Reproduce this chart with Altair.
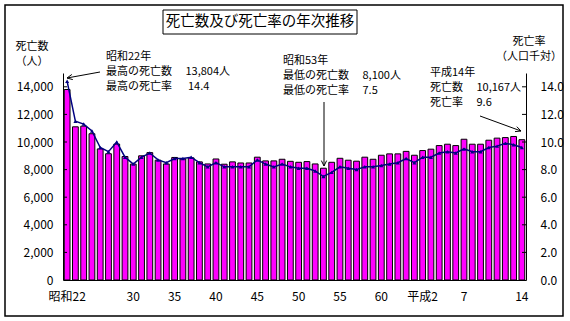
import math
import altair as alt
import pandas as pd

# ---- data ----
years = list(range(1947, 2003))  # 昭和22 .. 平成14
deaths = [13804, 11100, 11150, 10600, 9500, 9150, 9850, 8950, 8400, 9000,
          9230, 8680, 8410, 8880, 8770, 8850, 8560, 8410, 8770, 8390,
          8560, 8480, 8480, 8900, 8630, 8630, 8750, 8600, 8530, 8580,
          8410, 8100, 8530, 8820, 8680, 8610, 8900, 8750, 9040, 9140,
          9140, 9320, 9040, 9380, 9480, 9740, 9840, 9740, 10200, 9840,
          9840, 10130, 10280, 10320, 10400, 10167]
rates = [14.4, 11.5, 11.3, 10.8, 9.6, 9.3, 10.0, 8.9, 8.4, 8.9,
         9.2, 8.7, 8.5, 8.8, 8.8, 8.9, 8.5, 8.2, 8.5, 8.2,
         8.2, 8.2, 8.2, 8.7, 8.4, 8.2, 8.4, 8.2, 8.1, 8.1,
         7.9, 7.5, 7.8, 8.2, 8.1, 8.0, 8.2, 8.2, 8.3, 8.4,
         8.5, 8.8, 8.5, 8.9, 8.9, 9.2, 9.3, 9.2, 9.5, 9.3,
         9.3, 9.6, 9.7, 9.9, 9.8, 9.6]
tick_years = ["1947", "1955", "1960", "1965", "1970", "1975", "1980", "1985", "1990", "1995", "2002"]
tick_labels = ["昭和22", "30", "35", "40", "45", "50", "55", "60", "平成2", "7", "14"]
count_ticks = [0, 2000, 4000, 6000, 8000, 10000, 12000, 14000]
rate_ticks = [0, 2, 4, 6, 8, 10, 12, 14]

FONT = "Noto Sans CJK JP"
L, T = 63, 73          # plot-area origin in the page
W, H = 463, 207        # plot-area size

df = pd.DataFrame({"year": [str(y) for y in years], "deaths": deaths, "rate": rates})
one = pd.DataFrame({"k": [0]})

label_expr = " : ".join(f"datum.value == '{y}' ? '{l}'" for y, l in zip(tick_years, tick_labels)) + " : ''"

x_enc = alt.X("year:O", sort=None,
              scale=alt.Scale(paddingInner=0.3, paddingOuter=0.15),
              axis=alt.Axis(values=tick_years, labelExpr=label_expr, labelAngle=0,
                            ticks=False, tickSize=0, domainColor="black", domainWidth=1,
                            labelFont=FONT, labelFontSize=12, labelColor="black",
                            labelPadding=11, labelOverlap=False, title=None, grid=False))

left_axis = alt.Axis(values=count_ticks, format=",.0f", ticks=False, tickSize=0,
                     domainColor="black", labelFont=FONT, labelFontSize=12,
                     labelColor="black", labelPadding=10, title=None, grid=False)
right_axis = alt.Axis(orient="right", values=rate_ticks, format=".1f", ticks=False, tickSize=0,
                      domainColor="black", labelFont=FONT, labelFontSize=12,
                      labelColor="black", labelPadding=14, title=None, grid=False)
y_left = alt.Y("deaths:Q", scale=alt.Scale(domain=[0, 15000], nice=False), axis=left_axis)
y_right = alt.Y("rate:Q", scale=alt.Scale(domain=[0, 15], nice=False), axis=right_axis)


def txt(s, ax, ay, size=11, align="left"):
    return alt.Chart(one).mark_text(text=s, font=FONT, fontSize=size, align=align,
                                    baseline="middle", color="black").encode(
        x=alt.value(ax - L), y=alt.value(ay - T))


def seg(x1, y1, x2, y2, w=1.0):
    return alt.Chart(one).mark_rule(color="black", strokeWidth=w).encode(
        x=alt.value(x1 - L), y=alt.value(y1 - T), x2=alt.value(x2 - L), y2=alt.value(y2 - T))


def arrow(x1, y1, x2, y2):
    ang = math.atan2(y1 - y2, x1 - x2)
    parts = [seg(x1, y1, x2, y2)]
    for d in (0.45, -0.45):
        parts.append(seg(x2, y2, x2 + 6 * math.cos(ang + d), y2 + 6 * math.sin(ang + d)))
    return parts


def box(x1, y1, x2, y2, w=1.0):
    return alt.Chart(one).mark_rect(fillOpacity=0, stroke="black", strokeWidth=w).encode(
        x=alt.value(x1 - L), y=alt.value(y1 - T), x2=alt.value(x2 - L), y2=alt.value(y2 - T))


bars = alt.Chart(df).mark_bar(color="#FF00FF", stroke="black", strokeWidth=1).encode(
    x=x_enc, y=y_left)

lticks = alt.Chart(pd.DataFrame({"deaths": count_ticks[1:]})).mark_rule(color="black").encode(
    y=y_left, x=alt.value(0), x2=alt.value(4))

annotations = [
    box(5, 5, 563, 316, 1.5),
    box(163, 10, 357, 34, 1.0),
    txt("死亡数及び死亡率の年次推移", 260, 22, size=14.5, align="center"),
    txt("死亡数", 32, 47, align="center"),
    txt("（人）", 32, 62, align="center"),
    txt("死亡率", 529, 42, align="center"),
    txt("（人口千対）", 529, 57, align="center"),
    txt("昭和22年", 106, 57),
    txt("最高の死亡数\u3000 13,804人", 106, 72),
    txt("最高の死亡率\u3000 \u00a014.4", 106, 87),
    txt("昭和53年", 283, 61),
    txt("最低の死亡数\u3000 8,100人", 283, 76),
    txt("最低の死亡率\u3000 7.5", 283, 91),
    txt("平成14年", 430, 73),
    txt("死亡数\u3000 10,167人", 430, 88),
    txt("死亡率\u3000 9.6", 430, 103),
]
annotations += arrow(100, 72, 67, 78)
annotations += arrow(324, 102, 324, 166)
annotations += arrow(480, 116, 521, 131)

left = alt.layer(bars, lticks, *annotations)

line = alt.Chart(df).mark_line(color="#000080", strokeWidth=1.5).encode(x=x_enc, y=y_right)
pts = alt.Chart(df).mark_point(shape="triangle-up", filled=True, color="#000080", size=16, opacity=1).encode(
    x=x_enc, y=y_right)
rticks = alt.Chart(pd.DataFrame({"rate": rate_ticks[1:]})).mark_rule(color="black").encode(
    y=y_right, x=alt.value(W - 4), x2=alt.value(W))

right = alt.layer(line, pts, rticks)

chart = alt.layer(left, right).resolve_scale(y="independent").properties(
    width=W, height=H,
    autosize=alt.AutoSizeParams(type="none"),
    padding={"left": L, "top": T, "right": 570 - L - W, "bottom": 321 - T - H},
    background="white",
).configure_view(stroke=None)

chart.save("out.html", embed_options={"renderer": "svg", "actions": False})
